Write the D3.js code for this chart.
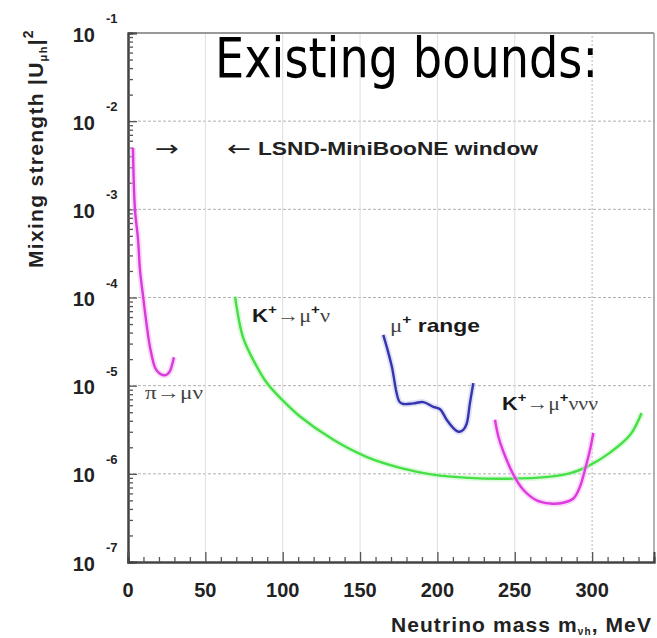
<!DOCTYPE html>
<html><head><meta charset="utf-8">
<script src="https://cdn.jsdelivr.net/npm/d3@7"></script>
<style>body{margin:0;background:#fff}svg{display:block}</style>
</head><body><svg id="c" width="657" height="638"></svg>
<script>
// Tick values
const massTicks = [0, 50, 100, 150, 200, 250, 300];
const decadeExponents = [-7, -6, -5, -4, -3, -2, -1];

// Exclusion curves: [neutrino mass (MeV), |U_mu h|^2]
const piMuNu = [[3.2,5.0e-3],[4.5,1.0e-3],[6.5,4.5e-4],[7.8,2.0e-4],[9.7,1.05e-4],[12,5.0e-5],
  [14.2,2.75e-5],[17.5,1.6e-5],[20,1.4e-5],[22.6,1.32e-5],[25,1.33e-5],[27,1.45e-5],[29.7,2.1e-5]];
const kMuNu = [[69.2,1.02e-4],[74.3,3.55e-5],[81,1.95e-5],[89.8,1.07e-5],[100,6.8e-6],[111,4.5e-6],
  [132.5,2.45e-6],[154.5,1.55e-6],[176,1.17e-6],[197,9.8e-7],[220,9.0e-7],[245,8.8e-7],[273,9.3e-7],
  [286,1.02e-6],[296.6,1.2e-6],[311.6,1.74e-6],[324.5,2.75e-6],[332,4.9e-6]];
const muRange = [[165,3.77e-5],[167.2,2.77e-5],[170.5,1.66e-5],[175.4,6.6e-6],[178,6.2e-6],[184.4,6.3e-6],
  [190.9,6.5e-6],[197.4,5.75e-6],[201.7,5.4e-6],[206,4.1e-6],[210.3,3.3e-6],[213.5,3.0e-6],[216.7,3.15e-6],
  [218.9,3.7e-6],[221,6.3e-6],[223.2,1.07e-5]];
const kMuNuNuNu = [[237.2,4.1e-6],[239.4,2.65e-6],[242.6,1.79e-6],[249.1,9.8e-7],[255.5,6.6e-7],[264.2,5.0e-7],
  [272.8,4.6e-7],[281.4,4.7e-7],[287.9,5.25e-7],[292.2,7.2e-7],[295.4,1.12e-6],[298.6,1.86e-6],[300.8,2.9e-6]];

const svg = d3.select("#c");
const x = d3.scaleLinear().domain([0, 340]).range([128, 654]);
const y = d3.scaleLog().domain([1e-7, 1e-1]).range([562, 33]);
const [x0, x1] = x.range();
const [yb, yt] = y.range();

const bold = "'Liberation Sans', Arial, sans-serif";
const serif = "'Liberation Serif', 'DejaVu Serif', serif";

// Grid
const grid = svg.append("g");
grid.selectAll("line.h").data(decadeExponents.slice(1, -1)).join("line")
  .attr("x1", x0).attr("x2", x1)
  .attr("y1", d => y(Math.pow(10, d))).attr("y2", d => y(Math.pow(10, d)))
  .attr("stroke", "#b0b0b0").attr("stroke-width", 1).attr("stroke-dasharray", "3,2");
grid.selectAll("line.v").data(massTicks.slice(1)).join("line")
  .attr("y1", yb).attr("y2", yt)
  .attr("x1", d => x(d)).attr("x2", d => x(d))
  .attr("stroke", d => d === 300 ? "#b8b8b8" : "#dedede").attr("stroke-width", 1)
  .attr("stroke-dasharray", d => d === 300 ? "2,2" : null);

// Frame
svg.append("line").attr("x1", x0).attr("x2", x1).attr("y1", yt).attr("y2", yt).attr("stroke", "#777").attr("stroke-width", 1.5);
svg.append("line").attr("x1", x1).attr("x2", x1).attr("y1", yt).attr("y2", yb).attr("stroke", "#999").attr("stroke-width", 1.5);

// Y axis
const yAxis = d3.axisRight(y).tickValues(decadeExponents.map(e => Math.pow(10, e))).tickSize(9).tickFormat("");
const gy = svg.append("g").attr("transform", `translate(${x0},0)`).call(yAxis);
const gyMinor = svg.append("g").attr("transform", `translate(${x0},0)`)
  .call(d3.axisRight(y).tickValues(y.ticks().filter(v => Math.abs(Math.log10(v) - Math.round(Math.log10(v))) > 1e-6)).tickSize(5).tickFormat(""));
[gy, gyMinor].forEach(g => { g.selectAll("line").attr("stroke", "#555").attr("stroke-width", 1.3); g.select(".domain").attr("stroke", "#444").attr("stroke-width", 2); });

// Y tick labels: 10 with exponent
const yl = svg.append("g").attr("font-family", bold).attr("font-weight", "bold").attr("fill", "#222");
decadeExponents.forEach(e => {
  const py = y(Math.pow(10, e));
  yl.append("text").attr("x", 95).attr("y", py + 8.5).attr("text-anchor", "end").attr("font-size", 20).text("10");
  yl.append("text").attr("x", 106).attr("y", py - 10).attr("font-size", 13).text(String(e));
});

// X axis
const xAxis = d3.axisTop(x).tickValues(massTicks).tickSize(10).tickFormat("");
const gx = svg.append("g").attr("transform", `translate(0,${yb})`).call(xAxis);
const gxMinor = svg.append("g").attr("transform", `translate(0,${yb})`)
  .call(d3.axisTop(x).tickValues(d3.range(10, 340, 10).filter(v => v % 50 !== 0)).tickSize(5).tickFormat(""));
[gx, gxMinor].forEach(g => { g.selectAll("line").attr("stroke", "#555").attr("stroke-width", 1.3); g.select(".domain").attr("stroke", "#444").attr("stroke-width", 2); });

svg.append("g").attr("font-family", bold).attr("font-weight", "bold").attr("fill", "#222").attr("font-size", 20)
  .selectAll("text").data(massTicks).join("text")
  .attr("x", d => x(d)).attr("y", 597).attr("text-anchor", "middle").text(d => d);

// Axis titles
const xt = svg.append("text").attr("x", 652).attr("y", 632).attr("text-anchor", "end")
  .attr("font-family", bold).attr("font-weight", "bold").attr("font-size", 21).attr("letter-spacing", 1.1).attr("fill", "#222");
xt.append("tspan").text("Neutrino mass m");
xt.append("tspan").attr("dy", 3).attr("font-size", 10).text("νh");
xt.append("tspan").attr("dy", -3).text(", MeV");

const ytl = svg.append("text").attr("transform", "translate(43,268) rotate(-90)")
  .attr("font-family", bold).attr("font-weight", "bold").attr("font-size", 21).attr("letter-spacing", 1.3).attr("fill", "#222");
ytl.append("tspan").text("Mixing strength |U");
ytl.append("tspan").attr("dy", 4).attr("font-size", 11).text("μh");
ytl.append("tspan").attr("dy", -4).text("|");
ytl.append("tspan").attr("dy", -10).attr("font-size", 14).text("2");

// Curves
const line = d3.line().x(d => x(d[0])).y(d => y(d[1])).curve(d3.curveCatmullRom.alpha(0.5));
const curves = [
  { data: piMuNu, color: "#d93bd9", halo: "#f6b6f6" },
  { data: kMuNu, color: "#46df46", halo: "#bff5bf" },
  { data: muRange, color: "#3434b0", halo: "#c4c4ee" },
  { data: kMuNuNuNu, color: "#de3ade", halo: "#f6b6f6" }
];
const cg = svg.append("g").attr("fill", "none");
curves.forEach(c => {
  cg.append("path").attr("d", line(c.data)).attr("stroke", c.halo).attr("stroke-width", 6).attr("opacity", 0.5);
  cg.append("path").attr("d", line(c.data)).attr("stroke", c.color).attr("stroke-width", 2.4);
});

// Annotations
const ann = svg.append("g").attr("fill", "#222");
ann.append("text").attr("x", 155).attr("y", 156).attr("font-family", "'DejaVu Sans', sans-serif").attr("font-size", 22)
  .attr("textLength", 24).attr("lengthAdjust", "spacingAndGlyphs").text("→");
ann.append("text").attr("x", 227).attr("y", 156).attr("font-family", "'DejaVu Sans', sans-serif").attr("font-size", 22)
  .attr("textLength", 24).attr("lengthAdjust", "spacingAndGlyphs").text("←");
ann.append("text").attr("x", 258).attr("y", 155).attr("font-family", bold).attr("font-weight", "bold").attr("font-size", 18)
  .attr("textLength", 280).attr("lengthAdjust", "spacingAndGlyphs").text("LSND-MiniBooNE window");

function decayLabel(px, py, len, parts) {
  const t = ann.append("text").attr("x", px).attr("y", py).attr("font-size", 19)
    .attr("textLength", len).attr("lengthAdjust", "spacingAndGlyphs");
  parts.forEach(p => {
    const s = t.append("tspan").text(p.t);
    if (p.b) s.attr("font-family", bold).attr("font-weight", "bold").attr("fill", "#1a1a1a");
    else s.attr("font-family", serif).attr("fill", "#444");
    if (p.sup) s.attr("font-size", 13).attr("dy", -8);
    if (p.down) s.attr("dy", 8);
  });
}
decayLabel(252, 322, 78, [{t:"K",b:1},{t:"+",b:1,sup:1},{t:"→μ",down:1},{t:"+",b:1,sup:1},{t:"ν",down:1}]);
decayLabel(502, 410, 96, [{t:"K",b:1},{t:"+",b:1,sup:1},{t:"→μ",down:1},{t:"+",b:1,sup:1},{t:"ννν",down:1}]);
decayLabel(390, 332, 90, [{t:"μ"},{t:"+",b:1,sup:1},{t:" range",b:1,down:1}]);
ann.append("text").attr("x", 145).attr("y", 399).attr("font-family", serif).attr("font-size", 19).attr("fill", "#444")
  .attr("textLength", 58).attr("lengthAdjust", "spacingAndGlyphs").text("π→μν");

// Slide heading
svg.append("text").attr("x", 215).attr("y", 77).attr("font-family", "'DejaVu Sans', sans-serif").attr("font-size", 56)
  .attr("fill", "#000").attr("textLength", 383).attr("lengthAdjust", "spacingAndGlyphs").text("Existing bounds:");
</script></body></html>
